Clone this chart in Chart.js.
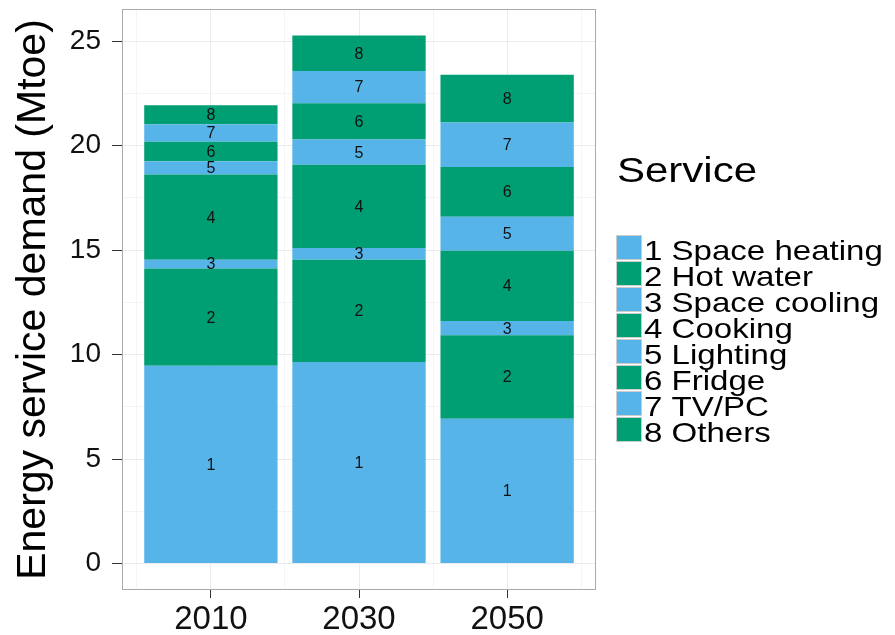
<!DOCTYPE html>
<html>
<head>
<meta charset="utf-8">
<script src="https://cdn.jsdelivr.net/npm/chart.js@4"></script>
<style>
  html, body { margin: 0; padding: 0; background: #fff; }
</style>
</head>
<body>
<canvas id="chart" width="895" height="635"></canvas>
<script>
    // data (Mtoe)
    const years = ['2010', '2030', '2050'];
    const services = ['1 Space heating', '2 Hot water', '3 Space cooling', '4 Cooking',
                      '5 Lighting', '6 Fridge', '7 TV/PC', '8 Others'];
    const legendTitle = 'Service';
    const yTicks = [0, 5, 10, 15, 20, 25];

    const spaceHeating = [9.46, 9.65, 6.93];
    const hotWater     = [4.66, 4.89, 3.99];
    const spaceCooling = [0.42, 0.56, 0.69];
    const cooking      = [4.07, 3.98, 3.36];
    const lighting     = [0.64, 1.21, 1.62];
    const fridge       = [0.93, 1.74, 2.39];
    const tvPc         = [0.84, 1.54, 2.12];
    const others       = [0.91, 1.70, 2.29];

    const series = [spaceHeating, hotWater, spaceCooling, cooking, lighting, fridge, tvPc, others];
    const blue = '#56B4E9';
    const green = '#009E73';
    const colors = services.map((s, i) => i % 2 === 0 ? blue : green);

    const font = "'Liberation Sans', Arial, sans-serif";
    Chart.defaults.font.family = font;

    // x ticks sit every half category (minor grid), so the ruler is half a category wide
    const datasets = series.map((values, i) => ({
        label: services[i],
        data: values.map((v, j) => ({ x: j + 1, y: v })),
        backgroundColor: colors[i],
        borderWidth: 0,
        barPercentage: 0.9,
        categoryPercentage: 2.0
    }));

    // number in the middle of each segment
    const segmentLabels = {
        id: 'segmentLabels',
        afterDatasetsDraw(chart) {
            const ctx = chart.ctx;
            ctx.save();
            ctx.fillStyle = '#111';
            ctx.font = '16px ' + font;
            ctx.textAlign = 'center';
            ctx.textBaseline = 'middle';
            chart.data.datasets.forEach((ds, i) => {
                chart.getDatasetMeta(i).data.forEach(bar => {
                    ctx.fillText(String(i + 1), bar.x, (bar.y + bar.base) / 2 + 1);
                });
            });
            ctx.restore();
        }
    };

    // panel border + legend on the right
    const panelAndLegend = {
        id: 'panelAndLegend',
        afterDraw(chart) {
            const ctx = chart.ctx;
            const a = chart.chartArea;
            ctx.save();
            ctx.strokeStyle = '#aaaaaa';
            ctx.lineWidth = 1;
            ctx.strokeRect(Math.round(a.left) + 0.5, Math.round(a.top) + 0.5,
                           Math.round(a.right - a.left) - 1, Math.round(a.bottom - a.top) - 1);

            ctx.fillStyle = '#000';
            ctx.textBaseline = 'alphabetic';
            ctx.font = '35px ' + font;
            ctx.save();
            ctx.translate(617, 182);
            ctx.scale(1.2, 1);
            ctx.fillText(legendTitle, 0, 0);
            ctx.restore();

            services.forEach((name, i) => {
                const y = 235 + 26 * i;
                ctx.fillStyle = colors[i];
                ctx.fillRect(616, y, 26, 25);
                ctx.strokeStyle = '#cccccc';
                ctx.strokeRect(616.5, y + 0.5, 25, 24);
                ctx.fillStyle = '#000';
                ctx.font = '28px ' + font;
                ctx.save();
                ctx.translate(644, y + 25);
                ctx.scale(1.18, 1);
                ctx.fillText(name, 0, 0);
                ctx.restore();
            });
            ctx.restore();
        }
    };

    const tickVal = ctx => (ctx.tick ? ctx.tick.value : NaN);
    const isMajorX = ctx => Number.isInteger(tickVal(ctx));
    const isMajorY = v => yTicks.includes(v);

    new Chart(document.getElementById('chart'), {
        type: 'bar',
        data: { datasets: datasets },
        options: {
            responsive: false,
            animation: false,
            layout: { padding: { top: 9, right: 299, left: 0, bottom: 0 } },
            plugins: {
                legend: { display: false },
                tooltip: { enabled: false }
            },
            scales: {
                x: {
                    type: 'linear',
                    stacked: true,
                    offset: false,
                    min: 0.4,
                    max: 3.6,
                    afterBuildTicks: s => {
                        s.ticks = [0.5, 1, 1.5, 2, 2.5, 3, 3.5].map(v => ({ value: v }));
                    },
                    afterFit: s => {
                        s.height = 45;
                        s.paddingLeft = 0;
                        s.paddingRight = 0;
                    },
                    border: { display: false },
                    grid: {
                        offset: false,
                        color: ctx => isMajorX(ctx) ? '#ebebeb' : '#f4f4f4',
                        tickColor: ctx => isMajorX(ctx) ? '#333' : 'rgba(0,0,0,0)',
                        tickLength: 8
                    },
                    ticks: {
                        autoSkip: false,
                        maxRotation: 0,
                        padding: 2,
                        color: '#111',
                        font: { size: 33 },
                        callback: v => Number.isInteger(v) ? years[v - 1] : ''
                    }
                },
                y: {
                    stacked: true,
                    min: -1.264,
                    max: 26.534,
                    afterBuildTicks: s => {
                        const t = [];
                        for (let v = 0; v <= 25; v += 2.5) t.push({ value: v });
                        s.ticks = t;
                    },
                    afterFit: s => {
                        s.width = 122;
                        s.paddingTop = 0;
                        s.paddingBottom = 0;
                    },
                    border: { display: false },
                    grid: {
                        color: ctx => isMajorY(tickVal(ctx)) ? '#ebebeb' : '#f4f4f4',
                        tickColor: ctx => isMajorY(tickVal(ctx)) ? '#333' : 'rgba(0,0,0,0)',
                        tickLength: 10
                    },
                    ticks: {
                        padding: 11,
                        color: '#111',
                        font: { size: 28 },
                        callback: v => isMajorY(v) ? String(v) : ''
                    },
                    title: {
                        display: true,
                        text: 'Energy service demand (Mtoe)',
                        color: '#000',
                        font: { size: 41 },
                        padding: { top: 9, bottom: 0 }
                    }
                }
            }
        },
        plugins: [segmentLabels, panelAndLegend]
    });
</script>
</body>
</html>
